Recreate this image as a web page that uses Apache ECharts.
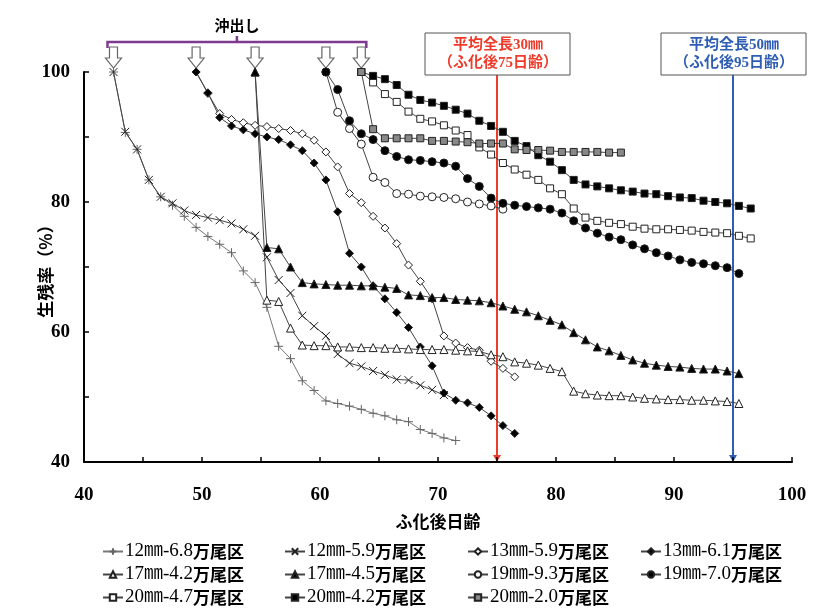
<!DOCTYPE html>
<html>
<head>
<meta charset="utf-8">
<script src="https://cdn.jsdelivr.net/npm/echarts@6/dist/echarts.min.js"></script>
<style>
html,body{margin:0;padding:0;background:#fff;}
#main{width:814px;height:608px;}
</style>
</head>
<body>
<div id="main"></div>
<script>
// 各区の生残率 [ふ化後日齢, 生残率%]
var s12_68 = [[42.5,100],[43.5,90.7],[44.5,88.1],[45.5,83.4],[46.5,80.8],[47.5,79.5],[48.5,77.8],[49.5,76.1],[50.5,74.7],[51.5,73.5],[52.5,72.2],[53.5,69.4],[54.5,67.6],[55.5,63.8],[56.5,57.8],[57.5,55.9],[58.5,52.5],[59.5,51.0],[60.5,49.4],[61.5,49.0],[62.5,48.6],[63.5,48.1],[64.5,47.5],[65.5,47.1],[66.5,46.5],[67.5,46.2],[68.5,45.0],[69.5,44.4],[70.5,43.7],[71.5,43.3]];
var s12_59 = [[42.5,100],[43.5,90.8],[44.5,88.1],[45.5,83.4],[46.5,80.8],[47.5,79.8],[48.5,78.7],[49.5,78.0],[50.5,77.6],[51.5,77.2],[52.5,76.7],[53.5,75.8],[54.5,74.8],[55.5,71.5],[56.5,68.0],[57.5,66.0],[58.5,62.5],[59.5,60.9],[60.5,59.4],[61.5,56.6],[62.5,55.2],[63.5,54.7],[64.5,54.0],[65.5,53.4],[66.5,52.7],[67.5,52.6],[68.5,51.8],[69.5,51.1],[70.5,50.3]];
var s13_59 = [[49.5,100],[50.5,96.7],[51.5,93.6],[52.5,92.7],[53.5,92.2],[54.5,91.8],[55.5,91.6],[56.5,91.3],[57.5,91.0],[58.5,90.5],[59.5,89.5],[60.5,87.7],[61.5,85.4],[62.5,81.3],[63.5,79.9],[64.5,77.8],[65.5,76.0],[66.5,73.6],[67.5,70.3],[68.5,67.8],[69.5,65.1],[70.5,59.4],[71.5,58.3],[72.5,57.6],[73.5,57.2],[74.5,55.5],[75.5,54.4],[76.5,53.1]];
var s13_61 = [[49.5,100],[50.5,96.8],[51.5,93.0],[52.5,91.7],[53.5,91.1],[54.5,90.5],[55.5,90.0],[56.5,89.6],[57.5,88.8],[58.5,87.9],[59.5,86.0],[60.5,83.4],[61.5,78.5],[62.5,72.1],[63.5,70.0],[64.5,67.1],[65.5,65.1],[66.5,63.0],[67.5,60.7],[68.5,57.7],[69.5,54.8],[70.5,50.6],[71.5,49.5],[72.5,49.1],[73.5,48.4],[74.5,47.1],[75.5,45.6],[76.5,44.4]];
var s17_42 = [[54.5,100],[55.5,64.9],[56.5,64.7],[57.5,60.6],[58.5,58.0],[59.5,57.9],[60.5,57.9],[61.5,57.7],[62.5,57.7],[63.5,57.6],[64.5,57.6],[65.5,57.5],[66.5,57.5],[67.5,57.4],[68.5,57.3],[69.5,57.3],[70.5,57.3],[71.5,57.2],[72.5,57.1],[73.5,57.0],[74.5,56.5],[75.5,56.2],[76.5,55.4],[77.5,55.2],[78.5,54.9],[79.5,54.4],[80.5,53.9],[81.5,50.9],[82.5,50.5],[83.5,50.3],[84.5,50.2],[85.5,50.2],[86.5,50.0],[87.5,49.8],[88.5,49.7],[89.5,49.6],[90.5,49.6],[91.5,49.5],[92.5,49.5],[93.5,49.4],[94.5,49.3],[95.5,49.0]];
var s17_45 = [[54.5,100],[55.5,73.0],[56.5,72.8],[57.5,70.0],[58.5,67.6],[59.5,67.4],[60.5,67.3],[61.5,67.2],[62.5,67.2],[63.5,67.1],[64.5,67.1],[65.5,66.9],[66.5,66.7],[67.5,65.7],[68.5,65.6],[69.5,65.3],[70.5,65.3],[71.5,65.0],[72.5,64.9],[73.5,64.8],[74.5,64.5],[75.5,64.0],[76.5,63.5],[77.5,63.1],[78.5,62.5],[79.5,61.8],[80.5,61.1],[81.5,59.9],[82.5,58.8],[83.5,57.7],[84.5,57.1],[85.5,56.4],[86.5,55.7],[87.5,55.2],[88.5,54.9],[89.5,54.7],[90.5,54.6],[91.5,54.4],[92.5,54.3],[93.5,54.3],[94.5,54.0],[95.5,53.6]];
var s19_93 = [[60.5,100],[61.5,93.8],[62.5,91.3],[63.5,88.9],[64.5,83.8],[65.5,83.0],[66.5,81.3],[67.5,81.2],[68.5,80.9],[69.5,80.8],[70.5,80.7],[71.5,80.5],[72.5,80.0],[73.5,79.7],[74.5,79.4],[75.5,78.9]];
var s19_70 = [[60.5,100],[61.5,97.3],[62.5,92.5],[63.5,90.5],[64.5,89.6],[65.5,87.9],[66.5,87.0],[67.5,86.5],[68.5,86.4],[69.5,86.2],[70.5,86.0],[71.5,85.5],[72.5,83.6],[73.5,82.4],[74.5,80.6],[75.5,79.8],[76.5,79.5],[77.5,79.3],[78.5,79.1],[79.5,78.9],[80.5,78.3],[81.5,77.1],[82.5,76.0],[83.5,75.2],[84.5,74.6],[85.5,74.2],[86.5,73.4],[87.5,72.8],[88.5,72.2],[89.5,71.7],[90.5,71.1],[91.5,70.7],[92.5,70.5],[93.5,70.2],[94.5,69.9],[95.5,69.0]];
var s20_47 = [[63.5,100],[64.5,98.4],[65.5,96.6],[66.5,95.4],[67.5,93.9],[68.5,92.8],[69.5,92.4],[70.5,91.8],[71.5,91.0],[72.5,90.3],[73.5,88.4],[74.5,87.3],[75.5,86.0],[76.5,85.0],[77.5,84.2],[78.5,83.4],[79.5,82.1],[80.5,81.2],[81.5,79.0],[82.5,77.6],[83.5,77.1],[84.5,76.8],[85.5,76.6],[86.5,76.2],[87.5,75.9],[88.5,75.8],[89.5,75.8],[90.5,75.7],[91.5,75.6],[92.5,75.4],[93.5,75.3],[94.5,75.2],[95.5,74.8],[96.5,74.4]];
var s20_42 = [[63.5,100],[64.5,99.4],[65.5,98.9],[66.5,98.0],[67.5,96.5],[68.5,95.7],[69.5,95.3],[70.5,94.8],[71.5,94.2],[72.5,93.6],[73.5,92.5],[74.5,91.7],[75.5,90.8],[76.5,89.4],[77.5,88.6],[78.5,87.2],[79.5,86.2],[80.5,84.9],[81.5,83.4],[82.5,82.7],[83.5,82.4],[84.5,82.1],[85.5,81.8],[86.5,81.6],[87.5,81.3],[88.5,81.2],[89.5,80.9],[90.5,80.7],[91.5,80.6],[92.5,80.2],[93.5,80.0],[94.5,79.8],[95.5,79.4],[96.5,79.0]];
var s20_20 = [[63.5,100],[64.5,91.2],[65.5,89.8],[66.5,89.8],[67.5,89.8],[68.5,89.8],[69.5,89.4],[70.5,89.4],[71.5,89.3],[72.5,89.2],[73.5,89.0],[74.5,89.0],[75.5,89.0],[76.5,88.1],[77.5,88.0],[78.5,88.0],[79.5,87.9],[80.5,87.7],[81.5,87.7],[82.5,87.7],[83.5,87.7],[84.5,87.6],[85.5,87.6]];

var names = ['12㎜-6.8万尾区','12㎜-5.9万尾区','13㎜-5.9万尾区','13㎜-6.1万尾区',
             '17㎜-4.2万尾区','17㎜-4.5万尾区','19㎜-9.3万尾区','19㎜-7.0万尾区',
             '20㎜-4.7万尾区','20㎜-4.2万尾区','20㎜-2.0万尾区'];
var datas = [s12_68,s12_59,s13_59,s13_61,s17_42,s17_45,s19_93,s19_70,s20_47,s20_42,s20_20];

// 沖出し日 (矢印) と 平均全長の日齢
var okidashiDays = [42.5, 49.5, 54.5, 60.5, 63.5];
var sizeDays = [75, 95];
var sizeText = [['平均全長30㎜','（ふ化後75日齢）'],['平均全長50㎜','（ふ化後95日齢）']];

var PLUS = 'path://M0,5L10,5M5,0L5,10';
var CROSS = 'path://M0,0L10,10M10,0L0,10';
// symbol, size, fill
var marks = [
  [PLUS, 9, '#555'], [CROSS, 8, '#333'], ['diamond', 8, '#fff'], ['diamond', 8, '#000'],
  ['triangle', 8, '#fff'], ['triangle', 8, '#000'], ['circle', 8, '#fff'], ['circle', 8, '#000'],
  ['rect', 7, '#fff'], ['rect', 7, '#000'], ['rect', 7, '#888']
];

var serif = "'Liberation Serif','Noto Sans CJK JP'";
var gothic = "'Noto Sans CJK JP'";

var series = [];
for (var i = 0; i < names.length; i++) {
  var m = marks[i];
  var stroke = (i === 0) ? '#666' : '#222';
  series.push({
    name: names[i],
    type: 'line',
    data: datas[i],
    symbol: m[0],
    symbolSize: m[1],
    showAllSymbol: true,
    lineStyle: { color: i === 0 ? '#777' : '#444', width: 1 },
    itemStyle: { color: m[2], borderColor: stroke, borderWidth: 1 },
    emphasis: { disabled: true }
  });
}

// 凡例: 4列×3行
var legendLeft = [102, 284, 467, 640];
var legendTop = [542, 565, 588];
var legends = names.map(function (nm, k) {
  return {
    left: legendLeft[k % 4],
    top: legendTop[Math.floor(k / 4)],
    itemWidth: 20,
    itemHeight: 8,
    itemGap: 0,
    padding: 0,
    data: [nm],
    selectedMode: false,
    formatter: function (name) {
      var p = name.indexOf('万');
      return '{n|' + name.slice(0, p) + '}{c|' + name.slice(p) + '}';
    },
    textStyle: {
      padding: [0, 0, 0, -3],
      rich: {
        n: { fontFamily: serif, fontSize: 19, color: '#000', lineHeight: 18 },
        c: { fontFamily: gothic, fontSize: 17, fontWeight: 'bold', color: '#000', lineHeight: 18 }
      }
    }
  };
});

var option = {
  animation: false,
  backgroundColor: '#fff',
  grid: { left: 84, right: 22, top: 72, bottom: 146 },
  legend: legends,
  xAxis: {
    type: 'value', min: 40, max: 100, interval: 5,
    name: 'ふ化後日齢', nameLocation: 'middle', nameGap: 51,
    nameTextStyle: { fontFamily: gothic, fontSize: 17, fontWeight: 'bold', color: '#000' },
    axisLine: { show: true, lineStyle: { color: '#000', width: 2 } },
    axisTick: { show: true, inside: true, length: 5, lineStyle: { color: '#000', width: 1.5 } },
    axisLabel: {
      margin: 24, color: '#000', fontFamily: serif, fontSize: 19, fontWeight: 'bold',
      formatter: function (v) { return v % 10 === 0 ? String(v) : ''; }
    },
    splitLine: { show: false }
  },
  yAxis: {
    type: 'value', min: 40, max: 100, interval: 10,
    name: '生残率（%）', nameLocation: 'middle', nameGap: 30, nameRotate: 90,
    nameMoveOverlap: false,
    nameTextStyle: { fontFamily: gothic, fontSize: 17, fontWeight: 'bold', color: '#000' },
    axisLine: { show: true, lineStyle: { color: '#000', width: 2 } },
    axisTick: { show: true, inside: true, length: 5, lineStyle: { color: '#000', width: 1.5 } },
    axisLabel: {
      margin: 14, color: '#000', fontFamily: serif, fontSize: 19, fontWeight: 'bold',
      formatter: function (v) { return v % 20 === 0 ? String(v) : ''; }
    },
    splitLine: { show: false }
  },
  series: series
};

var chart = echarts.init(document.getElementById('main'));
chart.setOption(option);

function px(d, v) { return chart.convertToPixel({ xAxisIndex: 0, yAxisIndex: 0 }, [d, v]); }

// 注記 (沖出し, 平均全長)
var g = [];
var yBot = px(40, 40)[1];
var purple = '#7D3A8E';
var xa = px(okidashiDays[0], 100)[0] - 6;
var xb = px(okidashiDays[okidashiDays.length - 1], 100)[0] + 5;
var xm = (xa + xb) / 2;
g.push({ type: 'polyline', shape: { points: [[xa, 48], [xa, 42], [xb, 42], [xb, 48]] }, style: { stroke: purple, lineWidth: 2.5, fill: null } });
g.push({ type: 'line', shape: { x1: xm, y1: 42, x2: xm, y2: 36 }, style: { stroke: purple, lineWidth: 2.5 } });
g.push({ type: 'text', x: xm, y: 25, style: { text: '沖出し', fontFamily: gothic, fontSize: 15, fontWeight: 'bold', fill: '#000', align: 'center', verticalAlign: 'middle' } });
okidashiDays.forEach(function (d) {
  var c = px(d, 100)[0];
  g.push({
    type: 'polygon',
    shape: { points: [[c - 4, 47], [c + 4, 47], [c + 4, 58], [c + 8, 58], [c, 68], [c - 8, 58], [c - 4, 58]] },
    style: { fill: '#fff', stroke: '#666', lineWidth: 1.2 }
  });
});
var lineCols = ['#EE3B2B', '#2E5DB3'];
sizeDays.forEach(function (d, k) {
  var c = px(d, 40)[0];
  var col = lineCols[k];
  g.push({ type: 'line', shape: { x1: c, y1: 75, x2: c, y2: yBot - 4 }, style: { stroke: col, lineWidth: 2 } });
  g.push({ type: 'polygon', shape: { points: [[c - 4, yBot - 7], [c + 4, yBot - 7], [c, yBot]] }, style: { fill: col } });
  g.push({ type: 'rect', shape: { x: c - 72, y: 33, width: 145, height: 42 }, style: { fill: '#fff', stroke: '#555', lineWidth: 1 } });
  g.push({ type: 'text', x: c + 1, y: 45, style: { text: sizeText[k][0], fontFamily: serif, fontSize: 15, fontWeight: 'bold', fill: col, align: 'center', verticalAlign: 'middle' } });
  g.push({ type: 'text', x: c + 1, y: 63, style: { text: sizeText[k][1], fontFamily: serif, fontSize: 15, fontWeight: 'bold', fill: col, align: 'center', verticalAlign: 'middle' } });
});
chart.setOption({ graphic: g });
</script>
</body>
</html>
